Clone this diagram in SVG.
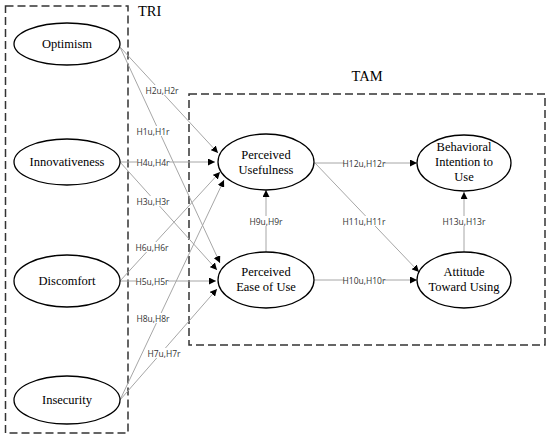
<svg xmlns="http://www.w3.org/2000/svg" width="550" height="441" viewBox="0 0 550 441">
<defs>
<style>
.box{fill:none;stroke:#333;stroke-width:1.5;stroke-dasharray:8,4}
.ell{fill:#fff;stroke:#000;stroke-width:1.3}
.nt{font-family:"Liberation Serif","Times New Roman",serif;font-size:12.5px;fill:#000;text-anchor:middle}
.title{font-family:"Liberation Serif","Times New Roman",serif;font-size:14.5px;fill:#000}
.ln{stroke:#a6a6a6;stroke-width:1;marker-end:url(#arr)}
.lbl{font-family:"Open Sans","Liberation Sans",sans-serif;font-size:8.5px;fill:#333;text-anchor:middle;dominant-baseline:central}
.bg{fill:#fff}
</style>
<marker id="arr" viewBox="0 0 10 10" refX="10" refY="5" markerWidth="7" markerHeight="7" markerUnits="userSpaceOnUse" orient="auto">
<path d="M0,0 L10,5 L0,10 z" fill="#000"/>
</marker>
</defs>
<rect width="550" height="441" fill="#fff"/>
<rect class="box" x="5.5" y="6" width="122.5" height="427"/>
<text class="title" x="138" y="16">TRI</text>
<rect class="box" x="189" y="94" width="356" height="251"/>
<text class="title" x="367" y="81" text-anchor="middle">TAM</text>

<g id="connectors">
<line class="ln" x1="120" y1="47" x2="218" y2="153"/>
<line class="ln" x1="120" y1="47" x2="220" y2="263"/>
<line class="ln" x1="120" y1="162" x2="215" y2="162"/>
<line class="ln" x1="120" y1="162" x2="217" y2="270"/>
<line class="ln" x1="120" y1="281" x2="220" y2="172"/>
<line class="ln" x1="120" y1="281" x2="216" y2="281"/>
<line class="ln" x1="120" y1="400" x2="224" y2="180"/>
<line class="ln" x1="120" y1="400" x2="217" y2="289"/>
<line class="ln" x1="266" y1="252" x2="266" y2="190"/>
<line class="ln" x1="314" y1="163" x2="417" y2="163"/>
<line class="ln" x1="315" y1="163" x2="419" y2="272"/>
<line class="ln" x1="314" y1="280" x2="417" y2="280"/>
<line class="ln" x1="464" y1="252" x2="464" y2="192"/>
<g>
<rect class="bg" x="146" y="85" width="32" height="10"/>
<rect class="bg" x="137" y="126" width="32" height="10"/>
<rect class="bg" x="137" y="157" width="32" height="10"/>
<rect class="bg" x="137" y="196" width="32" height="10"/>
<rect class="bg" x="136" y="242" width="32" height="10"/>
<rect class="bg" x="136" y="276" width="32" height="10"/>
<rect class="bg" x="137" y="313" width="32" height="10"/>
<rect class="bg" x="148" y="348" width="32" height="10"/>
<rect class="bg" x="250" y="216" width="32" height="10"/>
<rect class="bg" x="344" y="158" width="40" height="10"/>
<rect class="bg" x="344" y="216" width="40" height="10"/>
<rect class="bg" x="344" y="275" width="40" height="10"/>
<rect class="bg" x="444" y="216" width="40" height="10"/>
<text class="lbl" x="162" y="90">H2u,H2r</text>
<text class="lbl" x="153" y="131">H1u,H1r</text>
<text class="lbl" x="153" y="162">H4u,H4r</text>
<text class="lbl" x="153" y="201">H3u,H3r</text>
<text class="lbl" x="152" y="247">H6u,H6r</text>
<text class="lbl" x="152" y="281">H5u,H5r</text>
<text class="lbl" x="153" y="318">H8u,H8r</text>
<text class="lbl" x="164" y="353">H7u,H7r</text>
<text class="lbl" x="266" y="221">H9u,H9r</text>
<text class="lbl" x="364" y="163">H12u,H12r</text>
<text class="lbl" x="364" y="221">H11u,H11r</text>
<text class="lbl" x="364" y="280">H10u,H10r</text>
<text class="lbl" x="464" y="221">H13u,H13r</text>
</g>
</g>

<g id="optimism"><ellipse class="ell" cx="67" cy="44" rx="53" ry="21"/><text class="nt" font-family="Liberation Serif, serif" x="67" y="48">Optimism</text></g>
<g id="innovativeness"><ellipse class="ell" cx="67" cy="162" rx="53" ry="23"/><text class="nt" font-family="Liberation Serif, serif" x="67" y="166">Innovativeness</text></g>
<g id="discomfort"><ellipse class="ell" cx="67" cy="281" rx="53" ry="26"/><text class="nt" font-family="Liberation Serif, serif" x="67" y="285">Discomfort</text></g>
<g id="insecurity"><ellipse class="ell" cx="67" cy="400" rx="53" ry="24"/><text class="nt" font-family="Liberation Serif, serif" x="67" y="404">Insecurity</text></g>
<g id="pu"><ellipse class="ell" cx="266" cy="162" rx="48" ry="28"/><text class="nt" font-family="Liberation Serif, serif" x="266" y="159">Perceived</text><text class="nt" font-family="Liberation Serif, serif" x="266" y="174">Usefulness</text></g>
<g id="peou"><ellipse class="ell" cx="266" cy="280" rx="48" ry="28"/><text class="nt" font-family="Liberation Serif, serif" x="266" y="276">Perceived</text><text class="nt" font-family="Liberation Serif, serif" x="266" y="291">Ease of Use</text></g>
<g id="bi"><ellipse class="ell" cx="464" cy="163" rx="47" ry="28"/><text class="nt" font-family="Liberation Serif, serif" x="464" y="151">Behavioral</text><text class="nt" font-family="Liberation Serif, serif" x="464" y="166">Intention to</text><text class="nt" font-family="Liberation Serif, serif" x="464" y="181">Use</text></g>
<g id="att"><ellipse class="ell" cx="464" cy="280" rx="47" ry="28"/><text class="nt" font-family="Liberation Serif, serif" x="464" y="276">Attitude</text><text class="nt" font-family="Liberation Serif, serif" x="464" y="291">Toward Using</text></g>
</svg>
